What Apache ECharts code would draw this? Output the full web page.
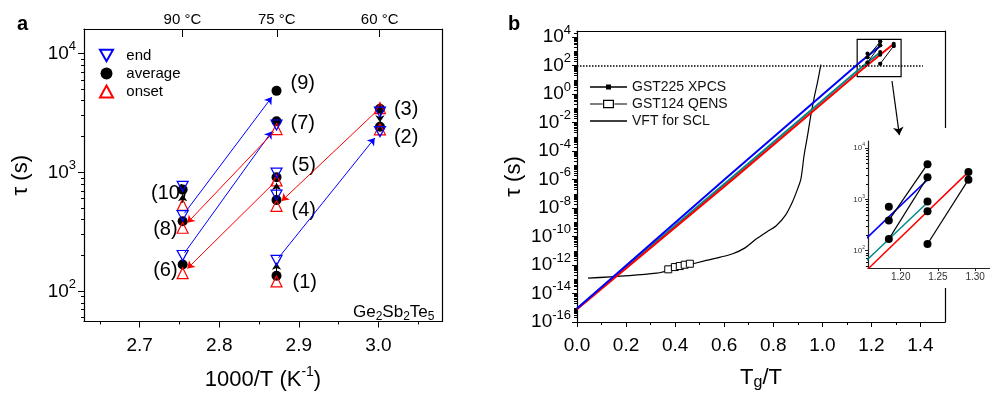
<!DOCTYPE html>
<html>
<head>
<meta charset="utf-8">
<script src="https://cdn.jsdelivr.net/npm/echarts@6/dist/echarts.min.js"></script>
<style>
html, body { margin: 0; padding: 0; background: #fff; }
#chart { width: 990px; height: 396px; }
</style>
</head>
<body>
<div id="chart"></div>
<script>
// ---- panel a : relaxation times of samples (1)..(10) ----
const invT = [2.872, 3.002, 3.002, 2.872, 2.872, 2.754, 2.872, 2.754, 2.872, 2.754];   // 1000/T (K^-1)
const tauEnd = [182, 2200, 3210, 644, 986, 200, 2500, 432, null, 762];
const tauAvg = [135, 2420, 3420, 585, 910, 168, 2690, 388, 4840, 716];
const tauOnset = [121, 2300, 3470, 523, 855, 142, 2310, 342, null, 532];
const sampleNames = ['(1)', '(2)', '(3)', '(4)', '(5)', '(6)', '(7)', '(8)', '(9)', '(10)'];
const tempTicks = [2.7537, 2.8723, 3.0017];
const tempNames = ['90 °C', '75 °C', '60 °C'];
const xTicksA = [2.7, 2.8, 2.9, 3.0];
const xMinorA = [2.65, 2.75, 2.85, 2.95, 3.05];
// sample index pairs joined by arrows
const endArrows = [[7, 8], [5, 6], [0, 1]];
const onsetArrows = [[6, 7], [4, 5], [2, 3]];

// ---- panel b : tau vs Tg/T ----
const blueX = [0, 0.607, 1.156, 1.235];
const blueTau = [8.9e-16, 1.26e-6, 186, 2340];
const tealX = [0, 0.629, 1.156, 1.236];
const tealTau = [8.9e-16, 1.26e-6, 69, 871];
const redX = [0, 0.641, 1.158, 1.29];
const redTau = [7.9e-16, 1.26e-6, 47, 3310];
const vftX = [0.045, 0.325, 0.42, 0.527, 0.585, 0.635, 0.685, 0.730, 0.775, 0.811, 0.85, 0.879, 0.900, 0.913, 0.926, 0.94, 0.953, 0.967, 0.980, 0.994];
const vftTau = [1.2e-13, 2.7e-13, 7.1e-13, 2.1e-12, 3.6e-12, 6.2e-12, 1.6e-11, 6.6e-11, 2.2e-10, 5.5e-10, 3.2e-9, 2.9e-8, 2.4e-7, 1.17e-6, 5.5e-5, 1.3e-3, 3.2e-2, 0.6, 6.3, 117];
const qensX = [0.372, 0.399, 0.419, 0.439, 0.460];
const qensTau = [5.0e-13, 7.2e-13, 8.5e-13, 1.05e-12, 1.23e-12];
const xpcsX = [1.236, 1.291, 1.291, 1.236, 1.236, 1.184, 1.236, 1.184, 1.236, 1.184];   // Tg/T of samples (1)..(10)
const xpcsPairs = [[7, 8], [5, 6], [0, 1]];
const xTicksB = [0, 0.2, 0.4, 0.6, 0.8, 1.0, 1.2, 1.4];
const xMinorB = [0.1, 0.3, 0.5, 0.7, 0.9, 1.1, 1.3];
const xTicksInset = [1.20, 1.25, 1.30];
const zoomBox = [[1.142, 16.6], [1.321, 6900]];
const zoomPointer = [[1.284, 8.3], [1.314, 1.32e-3]];
const plateau = 100;

const FONT = '"Liberation Sans", Arial, sans-serif';
const lg = v => (v == null ? null : Math.log10(v));
const pts = (xs, ys) => xs.map((x, i) => [x, lg(ys[i])]);
const decade = v => '10{sup|' + Math.round(v) + '}';
function decadeTicks(lo, hi, step) { const t = []; for (let n = lo; n <= hi; n += step) t.push(n); return t; }
function minorLog(lo, hi, skip) {
    const t = [];
    for (let n = lo; n <= hi; n++) {
        for (let k = 1; k <= 9; k++) {
            if (k === 1 && skip(n)) continue;
            t.push(n + Math.log10(k));
        }
    }
    return t;
}

const chart = echarts.init(document.getElementById('chart'));

const blk = { color: '#000', width: 1.2 };
const off = { show: false };
function frameAxis(gridIndex, position, min, max, z) {
    return { gridIndex, type: 'value', position, min, max, z: z || 0,
        axisLine: { onZero: false, lineStyle: blk }, axisTick: off, axisLabel: off, splitLine: off };
}
function tickAxis(gridIndex, position, min, max, values, len, z, inside) {
    return { gridIndex, type: 'value', position, min, max, z: z || 0,
        axisLine: { show: false, onZero: false }, splitLine: off, axisLabel: off,
        axisTick: { customValues: values, length: len, inside: !!inside, lineStyle: { color: '#000', width: 1 } } };
}
const supRich = size => ({ sup: { fontSize: size, padding: [0, 0, Math.round(size * 1.1), 0] } });

// arrow that stops short of the markers
function arrow(p, q, color, f0, f1) {
    const x0 = p[0], y0 = lg(p[1]), x1 = q[0], y1 = lg(q[1]);
    const ls = { color, width: 1, type: 'solid' };
    return [
        { coord: [x0 + (x1 - x0) * f0, y0 + (y1 - y0) * f0], lineStyle: ls },
        { coord: [x1 - (x1 - x0) * f1, y1 - (y1 - y0) * f1], lineStyle: ls }
    ];
}
const arrowsA = [];
endArrows.forEach(([i, j]) => arrowsA.push(arrow([invT[i], tauEnd[i]], [invT[j], tauEnd[j] ?? tauAvg[j]], '#0000ff', 0.02, 0.05)));
onsetArrows.forEach(([i, j]) => arrowsA.push(arrow([invT[i], tauOnset[i]], [invT[j], tauOnset[j]], '#ff0000', 0.03, 0.05)));
arrowsA.push(arrow([invT[9], tauOnset[9]], [invT[9], tauAvg[9]], '#000', 0.15, 0.3));
arrowsA.push(arrow([invT[3], tauAvg[3]], [invT[4], tauAvg[4]], '#000', 0.2, 0.25));
arrowsA.push(arrow([invT[0], tauAvg[0]], [invT[0], tauEnd[0]], '#000', 0.3, 0.15));
arrowsA.push(arrow([invT[2], tauAvg[2]], [invT[1], tauAvg[1]], '#000', 0.2, 0.25));

// label offsets for (1)..(10): [dx, dy, side]
const labelPlace = [[16, 7, 'r'], [14, 11, 'r'], [14, 1, 'r'], [15, 10, 'r'], [15, -12, 'r'],
    [-5, 6, 'l'], [14, 2, 'r'], [-5, 8, 'l'], [14, -7, 'r'], [4, 4, 'l']];
const labelData = invT.map((x, i) => ({
    value: [x, lg(tauAvg[i])],
    label: { position: labelPlace[i][2] === 'r' ? 'right' : 'left', distance: 0, offset: [labelPlace[i][0], labelPlace[i][1]] }
}));

const downTri = 'path://M0,0L10,0L5,8.66Z';
const xpcsSegments = xpcsPairs.map(([i, j]) => [[xpcsX[i], lg(tauAvg[i])], [xpcsX[j], lg(tauAvg[j])]]);

const series = [
    // ---------- panel a ----------
    { name: 'labels', type: 'scatter', xAxisIndex: 0, yAxisIndex: 0, symbolSize: 0, z: 1, data: labelData,
      itemStyle: { opacity: 1 },
      label: { show: true, formatter: p => sampleNames[p.dataIndex], fontSize: 20, color: '#000', fontFamily: FONT } },
    { name: 'arrowsA', type: 'line', xAxisIndex: 0, yAxisIndex: 0, data: [], z: 2,
      markLine: { silent: true, symbol: ['none', 'arrow'], symbolSize: 7, label: off, data: arrowsA } },
    { name: 'average', type: 'scatter', xAxisIndex: 0, yAxisIndex: 0, symbol: 'circle', symbolSize: 10, z: 3,
      itemStyle: { color: '#000', opacity: 1 }, data: pts(invT, tauAvg) },
    { name: 'onset', type: 'scatter', xAxisIndex: 0, yAxisIndex: 0, symbol: 'triangle', symbolSize: 11, z: 4,
      itemStyle: { color: 'rgba(0,0,0,0)', borderColor: '#ff0000', borderWidth: 1.2, opacity: 1 },
      data: pts(invT, tauOnset).filter(p => p[1] != null) },
    { name: 'end', type: 'scatter', xAxisIndex: 0, yAxisIndex: 0, symbol: downTri, symbolSize: [11, 10], z: 5,
      itemStyle: { color: 'rgba(0,0,0,0)', borderColor: '#0000ff', borderWidth: 1.2, opacity: 1 },
      data: pts(invT, tauEnd).filter(p => p[1] != null) },

    // ---------- panel b ----------
    { name: 'VFT for SCL', type: 'line', xAxisIndex: 3, yAxisIndex: 3, symbol: 'none', z: 2, smooth: 0.3,
      lineStyle: { color: '#000', width: 1.2 }, itemStyle: { color: '#000' }, data: pts(vftX, vftTau),
      markLine: { silent: true, symbol: 'none', label: off,
          data: [[{ coord: [0, lg(plateau)], lineStyle: { color: '#000', type: 'dotted', width: 1.5 } },
                  { coord: [1.41, lg(plateau)] }]] } },
    { name: 'GST124 QENS', type: 'line', xAxisIndex: 3, yAxisIndex: 3, symbol: 'rect', symbolSize: 7, z: 3,
      lineStyle: { color: '#000', width: 1 }, itemStyle: { color: '#fff', borderColor: '#000', borderWidth: 1 },
      data: pts(qensX, qensTau) },
    { name: 'fitTeal', type: 'line', xAxisIndex: 3, yAxisIndex: 3, symbol: 'none', z: 3,
      lineStyle: { color: '#008b8b', width: 2 }, data: pts(tealX, tealTau) },
    { name: 'fitRed', type: 'line', xAxisIndex: 3, yAxisIndex: 3, symbol: 'none', z: 3,
      lineStyle: { color: '#ff0000', width: 2 }, data: pts(redX, redTau) },
    { name: 'fitBlue', type: 'line', xAxisIndex: 3, yAxisIndex: 3, symbol: 'none', z: 4,
      lineStyle: { color: '#0000ff', width: 2 }, data: pts(blueX, blueTau) },
    { name: 'xpcsDots', type: 'scatter', xAxisIndex: 3, yAxisIndex: 3, symbol: 'circle', symbolSize: 4, z: 5,
      itemStyle: { color: '#000', opacity: 1 }, data: pts(xpcsX, tauAvg),
      markArea: { silent: true, itemStyle: { color: 'rgba(0,0,0,0)', borderColor: '#000', borderWidth: 1.2 },
          data: [[{ coord: [zoomBox[0][0], lg(zoomBox[0][1])] }, { coord: [zoomBox[1][0], lg(zoomBox[1][1])] }]] } },
    { name: 'pointer', type: 'line', xAxisIndex: 3, yAxisIndex: 3, data: [], z: 55,
      markLine: { silent: true, z: 56, symbol: ['none', 'arrow'], symbolSize: 8, label: off,
          data: [[{ coord: [zoomPointer[0][0], lg(zoomPointer[0][1])], lineStyle: { color: '#000', width: 1.2, type: 'solid' } },
                  { coord: [zoomPointer[1][0], lg(zoomPointer[1][1])] }]] } }
];
xpcsSegments.forEach(seg => series.push({ name: 'GST225 XPCS', type: 'line', xAxisIndex: 3, yAxisIndex: 3,
    symbol: 'circle', symbolSize: 4, z: 5, lineStyle: { color: '#000', width: 1 }, itemStyle: { color: '#000' }, data: seg }));

// ---------- inset ----------
series.push(
    { name: 'insetTeal', type: 'line', xAxisIndex: 6, yAxisIndex: 6, symbol: 'none', z: 60,
      lineStyle: { color: '#008b8b', width: 1.5 }, data: pts(tealX, tealTau) },
    { name: 'insetRed', type: 'line', xAxisIndex: 6, yAxisIndex: 6, symbol: 'none', z: 60,
      lineStyle: { color: '#ff0000', width: 1.5 }, data: pts(redX, redTau) },
    { name: 'insetBlue', type: 'line', xAxisIndex: 6, yAxisIndex: 6, symbol: 'none', z: 60,
      lineStyle: { color: '#0000ff', width: 1.5 }, data: pts(blueX, blueTau) },
    { name: 'insetDots', type: 'scatter', xAxisIndex: 6, yAxisIndex: 6, symbol: 'circle', symbolSize: 8, z: 62,
      itemStyle: { color: '#000', opacity: 1 }, data: pts(xpcsX, tauAvg) }
);
xpcsSegments.forEach(seg => series.push({ name: 'insetXpcs', type: 'line', xAxisIndex: 6, yAxisIndex: 6,
    symbol: 'none', z: 61, lineStyle: { color: '#000', width: 1.2 }, data: seg }));

const xMinA = 2.63, xMaxA = 3.08;
const yMinA = 1.746, yMaxA = 4.205;
const yMinB = -16, yMaxB = 4.43;
const yMinI = 1.663, yMaxI = 4.136;
const axisText = { color: '#000', fontFamily: FONT };

const option = {
    animation: false,
    backgroundColor: '#fff',
    textStyle: { fontFamily: FONT },
    grid: [
        { left: 84, top: 29, right: 548, bottom: 68 },
        { left: 577, top: 31, right: 45, bottom: 68 },
        { left: 868, top: 141, right: -10, bottom: 128 }
    ],
    xAxis: [
        { gridIndex: 0, type: 'value', position: 'bottom', min: xMinA, max: xMaxA, splitLine: off,
          axisLine: { onZero: false, lineStyle: blk },
          axisTick: { customValues: xTicksA, length: 6, lineStyle: { color: '#000' } },
          axisLabel: Object.assign({ customValues: xTicksA, formatter: v => v.toFixed(1), fontSize: 19, margin: 15 }, axisText),
          name: '1000/T (K{sup|-1})', nameLocation: 'middle', nameGap: 44,
          nameTextStyle: Object.assign({ fontSize: 22, rich: supRich(14) }, axisText) },
        tickAxis(0, 'bottom', xMinA, xMaxA, xMinorA, 3),
        { gridIndex: 0, type: 'value', position: 'top', min: xMinA, max: xMaxA, splitLine: off,
          axisLine: { onZero: false, lineStyle: blk },
          axisTick: { customValues: tempTicks, length: 8, inside: true, lineStyle: { color: '#000' } },
          axisLabel: Object.assign({ customValues: tempTicks, fontSize: 15, margin: 2,
              formatter: v => { let k = 0; tempTicks.forEach((t, i) => { if (Math.abs(t - v) < Math.abs(tempTicks[k] - v)) k = i; }); return tempNames[k]; } }, axisText) },

        { gridIndex: 1, type: 'value', position: 'bottom', min: 0, max: 1.5, splitLine: off,
          axisLine: { onZero: false, lineStyle: blk },
          axisTick: { customValues: xTicksB, length: 5, lineStyle: { color: '#000' } },
          axisLabel: Object.assign({ customValues: xTicksB, formatter: v => v.toFixed(1), fontSize: 19, margin: 14 }, axisText),
          name: '{n|T}{sub|g}{n|/T}', nameLocation: 'middle', nameGap: 42,
          nameTextStyle: Object.assign({ fontSize: 22, rich: { n: { fontSize: 22 }, sub: { fontSize: 16, padding: [11, 0, 0, 0] } } }, axisText) },
        tickAxis(1, 'bottom', 0, 1.5, xMinorB, 3),
        frameAxis(1, 'top', 0, 1.5),

        { gridIndex: 2, type: 'value', position: 'bottom', min: 1.156, max: 1.32, z: 60, splitLine: off,
          axisLine: { onZero: false, lineStyle: { color: '#222', width: 1.2 } },
          axisTick: { customValues: xTicksInset, length: 3, lineStyle: { color: '#222' } },
          axisLabel: { customValues: xTicksInset, formatter: v => v.toFixed(2), fontSize: 10, margin: 4, color: '#333', fontFamily: FONT } }
    ],
    yAxis: [
        { gridIndex: 0, type: 'value', position: 'left', min: yMinA, max: yMaxA, splitLine: off,
          axisLine: { onZero: false, lineStyle: blk },
          axisTick: { customValues: decadeTicks(2, 4, 1), length: 6, lineStyle: { color: '#000' } },
          axisLabel: Object.assign({ customValues: decadeTicks(2, 4, 1), formatter: decade, fontSize: 19, margin: 8, rich: supRich(13) }, axisText),
          name: 'τ (s)', nameLocation: 'middle', nameGap: 52, nameTextStyle: Object.assign({ fontSize: 22 }, axisText) },
        tickAxis(0, 'left', yMinA, yMaxA, minorLog(1, 4, () => true).filter(v => v > yMinA && v < yMaxA), 3),
        frameAxis(0, 'right', yMinA, yMaxA),

        { gridIndex: 1, type: 'value', position: 'left', min: yMinB, max: yMaxB, splitLine: off,
          axisLine: { onZero: false, lineStyle: blk },
          axisTick: { customValues: decadeTicks(-16, 4, 2), length: 5, lineStyle: { color: '#000' } },
          axisLabel: Object.assign({ customValues: decadeTicks(-16, 4, 2), formatter: decade, fontSize: 19, margin: 6, rich: supRich(13) }, axisText),
          name: 'τ (s)', nameLocation: 'middle', nameGap: 52, nameTextStyle: Object.assign({ fontSize: 22 }, axisText) },
        tickAxis(1, 'left', yMinB, yMaxB, minorLog(-16, 4, n => n % 2 === 0).filter(v => v > yMinB && v < yMaxB), 3),
        frameAxis(1, 'right', yMinB, yMaxB),

        { gridIndex: 2, type: 'value', position: 'left', min: yMinI, max: yMaxI, z: 60, splitLine: off,
          axisLine: { onZero: false, lineStyle: { color: '#222', width: 1.2 } },
          axisTick: { customValues: decadeTicks(2, 4, 1), length: 3, lineStyle: { color: '#222' } },
          axisLabel: { customValues: decadeTicks(2, 4, 1), formatter: decade, fontSize: 8, margin: 3, color: '#333', fontFamily: FONT,
              rich: { sup: { fontSize: 5, padding: [0, 0, 6, 0] } } } },
        tickAxis(2, 'left', yMinI, yMaxI, minorLog(1, 4, () => true).filter(v => v > yMinI && v < yMaxI), 2, 60)
    ],
    legend: [
        { data: ['end', 'average', 'onset'], orient: 'vertical', left: 94, top: 43, itemWidth: 13, itemHeight: 12, itemGap: 3,
          formatter: n => '  ' + n,
          textStyle: { fontSize: 15, lineHeight: 15, color: '#000', fontFamily: FONT }, selectedMode: false },
        { data: [
            { name: 'GST225 XPCS', icon: 'path://M0,3.3H37V4.7H0Z M16,1.5H21V6.5H16Z', itemStyle: { color: '#000', borderWidth: 0 } },
            { name: 'GST124 QENS', icon: 'path://M0,4.3H12.6V5.5H0Z M24.4,4.3H37V5.5H24.4Z M13,0.6H24V9.2H13Z M14.2,1.8V8H22.8V1.8Z', itemStyle: { color: '#000', borderWidth: 0 } },
            { name: 'VFT for SCL', icon: 'path://M0,0H37V1.3H0Z', itemStyle: { color: '#000', borderWidth: 0 } }
          ], orient: 'vertical', left: 585, top: 75, itemWidth: 37, itemHeight: 9, itemGap: 3,
          textStyle: { fontSize: 14, color: '#111', fontFamily: FONT }, selectedMode: false }
    ],
    graphic: [
        { type: 'rect', z: 50, silent: true, shape: { x: 843, y: 128, width: 150, height: 160 }, style: { fill: '#fff' } },
        { type: 'text', x: 17, y: 14, silent: true, style: { text: 'a', font: 'bold 20px ' + FONT, fill: '#000' } },
        { type: 'text', x: 508, y: 14, silent: true, style: { text: 'b', font: 'bold 20px ' + FONT, fill: '#000' } },
        { type: 'text', x: 353, y: 302, silent: true,
          style: { text: 'Ge{s|2}Sb{s|2}Te{s|5}', fontSize: 17, fontFamily: FONT, fill: '#000',
                   rich: { s: { fontSize: 12, padding: [9, 0, 0, 0] } } } }
    ],
    series
};
chart.setOption(option);
</script>
</body>
</html>
